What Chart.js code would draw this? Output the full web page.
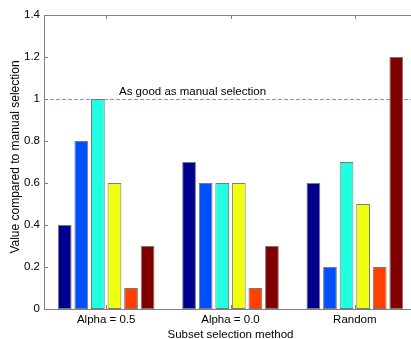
<!DOCTYPE html>
<html>
<head>
<meta charset="utf-8">
<script src="https://cdn.jsdelivr.net/npm/chart.js@4"></script>
<style>
  html, body { margin: 0; padding: 0; overflow: hidden; background: #fff; }
</style>
</head>
<body>
<canvas id="barChart" width="417" height="339"></canvas>
<script>
const categories = ["Alpha = 0.5", "Alpha = 0.0", "Random"];
const series1 = [0.4, 0.7, 0.6];
const series2 = [0.8, 0.6, 0.2];
const series3 = [1.0, 0.6, 0.7];
const series4 = [0.6, 0.6, 0.5];
const series5 = [0.1, 0.1, 0.2];
const series6 = [0.3, 0.3, 1.2];
const yTicks = [0, 0.2, 0.4, 0.6, 0.8, 1, 1.2, 1.4];
const referenceValue = 1;
const referenceLabel = "As good as manual selection";

const colors = ["#00008f", "#0050ff", "#20ffdf", "#efff10", "#ff4000", "#800000"];
const axisGray = "#808080";
const font = { family: "'Liberation Sans', Arial, sans-serif", size: 11.5 };

// box, inward ticks and the dashed reference line, MATLAB style
const matlabAxes = {
  id: "matlabAxes",
  beforeDatasetsDraw(chart) {
    const { ctx, chartArea, scales } = chart;
    const y = Math.round(scales.y.getPixelForValue(referenceValue)) + 0.5;
    ctx.save();
    ctx.strokeStyle = "#8a8af0";
    ctx.lineWidth = 1;
    ctx.setLineDash([4, 2]);
    ctx.beginPath();
    ctx.moveTo(chartArea.left, y);
    ctx.lineTo(chartArea.right, y);
    ctx.stroke();
    ctx.setLineDash([]);
    ctx.fillStyle = "#000";
    ctx.font = "11.5px " + font.family;
    ctx.textBaseline = "bottom";
    ctx.fillText(referenceLabel, chartArea.left + 75, y - 2);
    ctx.restore();
  },
  afterDraw(chart) {
    const { ctx, chartArea, scales } = chart;
    const { left, right, top, bottom } = chartArea;
    ctx.save();
    ctx.strokeStyle = axisGray;
    ctx.lineWidth = 1;
    ctx.beginPath();
    ctx.moveTo(left, top + 0.5);
    ctx.lineTo(right, top + 0.5);
    ctx.moveTo(right - 0.5, top);
    ctx.lineTo(right - 0.5, bottom);
    yTicks.forEach(v => {
      const py = Math.round(scales.y.getPixelForValue(v)) + 0.5;
      ctx.moveTo(left, py);
      ctx.lineTo(left + 4, py);
      ctx.moveTo(right - 4, py);
      ctx.lineTo(right, py);
    });
    categories.forEach((c, i) => {
      const px = Math.round(scales.x.getPixelForValue(i)) + 0.5;
      ctx.moveTo(px, bottom);
      ctx.lineTo(px, bottom - 4);
      ctx.moveTo(px, top);
      ctx.lineTo(px, top + 4);
    });
    ctx.stroke();
    ctx.restore();
  }
};

const allSeries = [series1, series2, series3, series4, series5, series6];

new Chart(document.getElementById("barChart").getContext("2d"), {
  type: "bar",
  data: {
    labels: categories,
    datasets: allSeries.map((s, i) => ({
      label: "Series " + (i + 1),
      data: s,
      backgroundColor: colors[i],
      borderColor: "#7a7a7a",
      borderWidth: 1,
      borderSkipped: false,
      categoryPercentage: 0.8,
      barPercentage: 0.83
    }))
  },
  options: {
    responsive: false,
    animation: false,
    devicePixelRatio: 1,
    layout: { padding: { top: 15, left: 0, right: 0, bottom: 0 } },
    plugins: {
      legend: { display: false },
      tooltip: { enabled: false }
    },
    scales: {
      x: {
        grid: { display: false, drawTicks: false },
        border: { display: true, color: axisGray },
        ticks: { color: "#000", font: font, padding: 4 },
        title: {
          display: true,
          text: "Subset selection method",
          color: "#000",
          font: { ...font, lineHeight: 1 },
          padding: { top: 0, bottom: -2 }
        },
        afterFit: s => { s.height = 30; }
      },
      y: {
        min: 0,
        max: 1.4,
        grid: { display: false, drawTicks: false },
        border: { display: true, color: axisGray },
        ticks: {
          stepSize: 0.2,
          color: "#000",
          font: font,
          padding: 4,
          callback: v => String(Math.round(v * 10) / 10)
        },
        title: {
          display: true,
          text: "   Value compared to manual selection",
          color: "#000",
          font: { ...font, size: 12 },
          padding: { top: 8, bottom: 0 }
        },
        afterFit: s => { s.width = 44; }
      }
    }
  },
  plugins: [matlabAxes]
});
</script>
</body>
</html>
